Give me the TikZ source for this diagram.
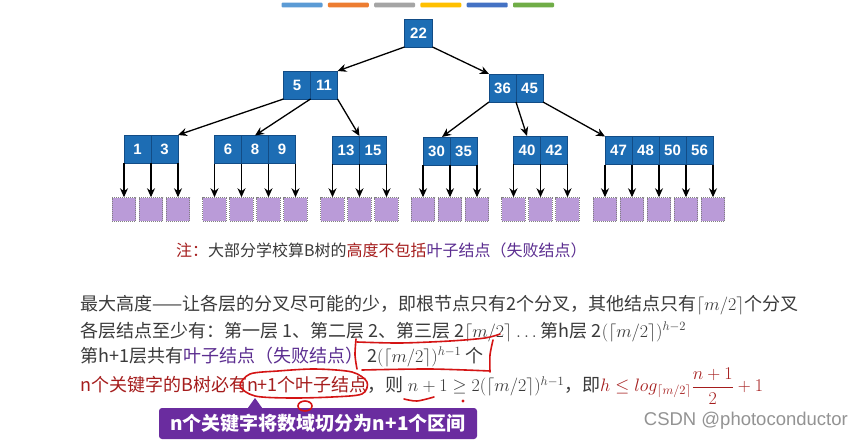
\RequirePackage{fix-cm}
\documentclass[tikz,border=0pt]{standalone}
\usepackage{fontspec}
\setmainfont{Noto Sans CJK SC}
\newfontfamily\numfont{Liberation Sans}
\newfontfamily\markfont{Liberation Sans}
\usetikzlibrary{arrows.meta,positioning,calc}

\definecolor{keyblue}{HTML}{1D6DB4}
\definecolor{keyedge}{HTML}{124C86}
\definecolor{leafpurple}{HTML}{BA9BD8}
\definecolor{txtgray}{HTML}{3A3A3A}
\definecolor{darkred}{HTML}{A51D1D}
\definecolor{notepurple}{HTML}{5B2D90}
\definecolor{calloutpurple}{HTML}{6A2C9F}
\definecolor{penred}{HTML}{D41414}
\definecolor{bar0}{HTML}{5B9BD5}
\definecolor{bar1}{HTML}{ED7D31}
\definecolor{bar2}{HTML}{A5A5A5}
\definecolor{bar3}{HTML}{FFC000}
\definecolor{bar4}{HTML}{4472C4}
\definecolor{bar5}{HTML}{70AD47}

\tikzset{
  key/.style={draw=keyedge, fill=keyblue, line width=0.8pt, minimum width=27pt,
    minimum height=28pt, inner sep=0pt, outer sep=0pt, text=white,
    font=\numfont\bfseries\fontsize{15}{15}\selectfont},
  leaf/.style={draw=gray, densely dotted, fill=leafpurple, line width=1pt,
    minimum size=23.5pt, inner sep=0pt},
  link/.style={line width=1.3pt, -{Stealth[length=9pt,width=8pt]}},
  textline/.style={anchor=west, inner sep=0pt, text=txtgray,
    font=\fontsize{18}{18}\selectfont},
  pen/.style={draw=penred, line width=1.6pt, line cap=round, line join=round}
}

\begin{document}
\begin{tikzpicture}[x=1pt, y=-1pt]
  \useasboundingbox[fill=white] (0,0) rectangle (864,441);

  % Colour bars
  \foreach \i in {0,...,5}
    \fill[bar\i, rounded corners=1pt] ({281.5+46.3*\i},2.7) rectangle ++(41,4.6);

  % Root and first level
  \node[key, minimum width=28pt] (k22) at (418.5,33) {22};
  \node[key, anchor=west] (k5) at (283.5,85) {5};
  \node[key, right=0pt of k5] (k11) {11};
  \node[key, anchor=west] (k36) at (489,88) {36};
  \node[key, right=0pt of k36] (k45) {45};

  % Second level
  \node[key, anchor=west] (k1) at (124,149) {1};
  \node[key, right=0pt of k1] (k3) {3};
  \node[key, anchor=west] (k6) at (214.5,149.5) {6};
  \node[key, right=0pt of k6] (k8) {8};
  \node[key, right=0pt of k8] (k9) {9};
  \node[key, anchor=west] (k13) at (332.5,150) {13};
  \node[key, right=0pt of k13] (k15) {15};
  \node[key, anchor=west] (k30) at (423,151) {30};
  \node[key, right=0pt of k30] (k35) {35};
  \node[key, anchor=west] (k40) at (513.5,150) {40};
  \node[key, right=0pt of k40] (k42) {42};
  \node[key, anchor=west] (k47) at (605,150.5) {47};
  \node[key, right=0pt of k47] (k48) {48};
  \node[key, right=0pt of k48] (k50) {50};
  \node[key, right=0pt of k50] (k56) {56};

  % Pointers
  \draw[link] (k22.south west) -- (k11.north east);
  \draw[link] (k22.south east) -- (k36.north west);
  \draw[link] (k5.south west) -- (k3.north east);
  \draw[link] (k5.south east) -- (k8.north);
  \draw[link] (k11.south east) -- (k13.north east);
  \draw[link] (k36.south west) -- ([xshift=-8pt]k30.north east);
  \draw[link] (k36.south east) -- (k40.north);
  \draw[link] (k45.south east) -- (k47.north west);

  % Leaves (failure nodes)
  \foreach \g/\x/\n/\c in {a/124/2/k1, b/214.5/3/k6, c/332.5/2/k13,
                           d/423/2/k30, e/513.5/2/k40, f/605/4/k47}
    \foreach \i in {0,...,\n} {
      \node[leaf] (\g\i) at ({\x+27*\i},209.5) {};
      \draw[link] (\g\i |- \c.south) -- (\g\i.north);
    }

  % Texts
  \node[textline, font=\fontsize{16}{16}\selectfont] (note) at (176,250)
    {\textcolor{darkred}{注：}大部分学校算B树的\textcolor{darkred}{高度不包括}\textcolor{notepurple}{叶子结点（失败结点）}};
  \node[textline] (l1) at (80,305)
    {最大高度——让各层的分叉尽可能的少，即根节点只有2个分叉，其他结点只有$\lceil m/2\rceil$个分叉};
  \node[textline] (l2) at (80,332)
    {各层结点至少有：第一层 1、第二层 2、第三层 2$\lceil m/2\rceil$ $\ldots$ 第h层 2$(\lceil m/2\rceil)^{h-2}$};
  \node[textline] (l3) at (80,357)
    {第h+1层共有\textcolor{notepurple}{叶子结点（失败结点）} 2$(\lceil m/2\rceil)^{h-1}$ 个};
  \node[textline] (l4) at (80,386)
    {\textcolor{darkred}{n个关键字的B树必有n+1个叶子结点}，则 $n+1 \geq 2(\lceil m/2\rceil)^{h-1}$，即\textcolor{darkred}{$h \leq log_{\lceil m/2\rceil}{\displaystyle\frac{n+1}{2}}+1$}};

  % Callout
  \node[fill=calloutpurple, rounded corners=3pt, minimum width=318pt, minimum height=31pt,
        inner sep=0pt, text=white, font=\bfseries\fontsize{19}{19}\selectfont]
    (cb) at (318,423.5) {n个关键字将数域切分为n+1个区间};
  \coordinate (ptr) at (255,398);
  \fill[calloutpurple] (ptr) -- ([xshift=-7pt]ptr |- cb.north) -- ([xshift=7pt]ptr |- cb.north) -- cycle;

  % Red pen marks
  \draw[pen] plot[smooth] coordinates {(357,342) (400,343) (450,341) (485,338) (500,334)};
  \draw[pen] plot[smooth] coordinates {(493,340) (490,355) (490,372)};
  \draw[pen] plot[smooth] coordinates {(490,371) (430,369) (362,370)};
  \draw[pen] plot[smooth] coordinates {(356,339) (355,355) (357,369)};
  \draw[pen] plot[smooth cycle] coordinates {(240,386) (250,374) (278,371) (315,369)
    (352,372) (367,382) (362,394) (332,397) (290,398) (255,396)};
  \draw[pen] (305,406) ellipse (7 and 5);
  \draw[pen] plot[smooth] coordinates {(404,399) (417,401) (434,397)};
  \fill[penred] (463,401) circle (1.6);

  % Watermark
  \node[anchor=east, inner sep=0pt, text=gray!85, font=\markfont\fontsize{18.5}{18.5}\selectfont]
    (wm) at (848,421) {CSDN @photoconductor};
\end{tikzpicture}
\end{document}
